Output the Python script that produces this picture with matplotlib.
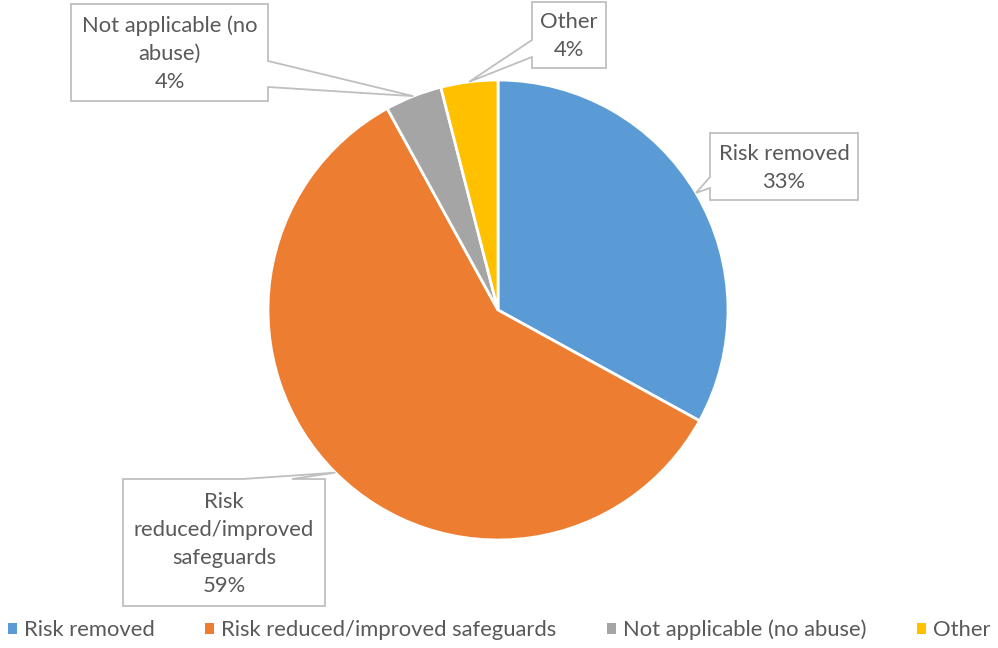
import matplotlib
matplotlib.use('Agg')
import matplotlib.pyplot as plt
import numpy as np
from matplotlib.patches import Polygon, Patch

categories = ['Risk removed', 'Risk reduced/improved safeguards',
              'Not applicable (no abuse)', 'Other']
values = [33, 59, 4, 4]
label_texts = ['Risk removed\n33%', 'Risk\nreduced/improved\nsafeguards\n59%',
               'Not applicable (no\nabuse)\n4%', 'Other\n4%']
colors = ['#5B9BD5', '#ED7D31', '#A5A5A5', '#FFC000']

W, H = 998, 648
fig = plt.figure(figsize=(W / 100, H / 100), dpi=100)
ax = fig.add_axes([0, 0, 1, 1])
cx, cy, R = 498, 310, 230

def d(px, py):
    return ((px - cx) / R, (cy - py) / R)

wedges, _ = ax.pie(values, colors=colors, startangle=90, counterclock=False,
                   radius=1, wedgeprops=dict(edgecolor='white', linewidth=2))
ax.set_xlim(-cx / R, (W - cx) / R)
ax.set_ylim(-(H - cy) / R, cy / R)
ax.set_aspect('equal')
ax.axis('off')

FONT = 'Lato'
TXT = '#595959'

# fit font size so legend text width matches reference
renderer = fig.canvas.get_renderer()
t = fig.text(0, 0, 'Risk reduced/improved safeguards', fontsize=16, family=FONT)
wpx = t.get_window_extent(renderer).width
t.remove()
fs = 16 * 338 / wpx

# callout boxes: (left, top, right, bottom) in pixels, pointer side, pointer range
boxes = [
    ((710, 133, 858, 200), 'left', (177, 188)),
    ((123, 479, 325, 606), 'top', (243, 292)),
    ((71, 4, 268, 101), 'right', (61, 87)),
    ((532, 2, 606, 68), 'left', (40, 57)),
]

for w, txt, (rect, side, rng) in zip(wedges, label_texts, boxes):
    th = np.deg2rad((w.theta1 + w.theta2) / 2)
    tip = (np.cos(th) * 1.0, np.sin(th) * 1.0)
    l, tp, r, b = rect
    if side == 'left':
        pts = [d(l, tp), d(r, tp), d(r, b), d(l, b), d(l, rng[1]), tip, d(l, rng[0])]
    elif side == 'right':
        pts = [d(l, tp), d(r, tp), d(r, rng[0]), tip, d(r, rng[1]), d(r, b), d(l, b)]
    else:  # top
        pts = [d(l, tp), d(rng[0], tp), tip, d(rng[1], tp), d(r, tp), d(r, b), d(l, b)]
    poly = Polygon(pts, closed=True, facecolor='white', edgecolor='#BFBFBF',
                   linewidth=1.3, zorder=5)
    ax.add_patch(poly)
    tx, ty = d((l + r) / 2, (tp + b) / 2 + 1)
    ax.text(tx, ty, txt, ha='center', va='center', fontsize=fs, family=FONT,
            color=TXT, linespacing=1.5, zorder=6)

handles = [Patch(facecolor=c, edgecolor='none') for c in colors]
leg = fig.legend(handles, categories, loc='center', bbox_to_anchor=(0.5, 1 - 630 / H),
                 ncol=4, frameon=False, handlelength=0.42,
                 handleheight=0.42, handletextpad=0.3, columnspacing=2.3,
                 prop={'family': FONT, 'size': fs})
for t in leg.get_texts():
    t.set_color(TXT)

fig.savefig('out.png', dpi=100)
